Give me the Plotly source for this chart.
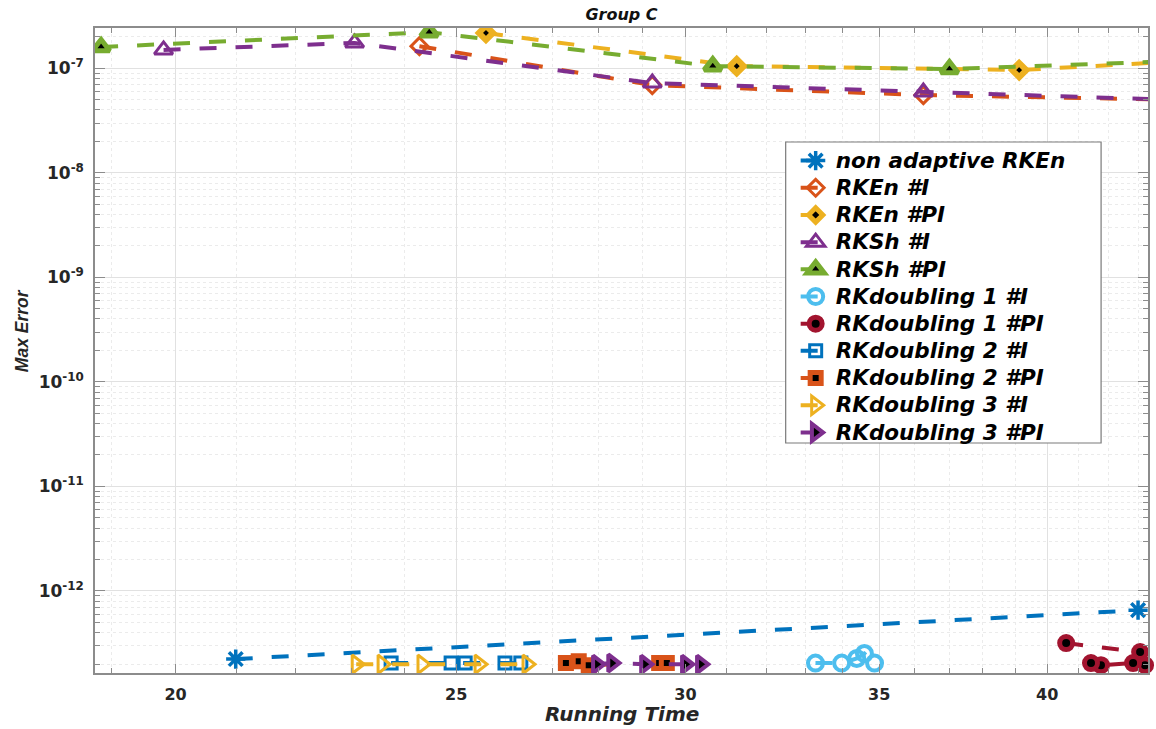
import plotly.graph_objects as go

# Running time (s) and maximum error for each integrator
nonadapt_t = [20.98, 43.0]
nonadapt_e = [2.23e-13, 6.55e-13]

rken_i_t = [24.28, 29.22, 36.25, 45.0]
rken_i_e = [1.63e-7, 6.92e-8, 5.55e-8, 4.97e-8]

rken_pi_t = [25.60, 31.25, 39.12, 45.0]
rken_pi_e = [2.18e-7, 1.05e-7, 9.63e-8, 1.19e-7]

rksh_i_t = [19.81, 23.06, 29.22, 36.25, 45.0]
rksh_i_e = [1.50e-7, 1.75e-7, 7.23e-8, 5.93e-8, 4.91e-8]

rksh_pi_t = [18.85, 24.47, 30.66, 37.01, 45.0]
rksh_pi_e = [1.60e-7, 2.22e-7, 1.05e-7, 9.85e-8, 1.19e-7]

rkd1_i_t = [33.27, 33.97, 34.38, 34.59, 34.87]
rkd1_i_e = [2.04e-13, 2.04e-13, 2.26e-13, 2.52e-13, 2.04e-13]

rkd1_pi_t = [40.61, 43.07, 43.24, 42.83, 41.75, 41.42]
rkd1_pi_e = [3.17e-13, 2.60e-13, 1.95e-13, 2.04e-13, 1.95e-13, 2.04e-13]

rkd2_i_t = [23.74, 24.90, 25.18, 25.99, 26.32]
rkd2_i_e = [2.04e-13, 2.04e-13, 2.04e-13, 2.04e-13, 2.04e-13]

rkd2_pi_t = [27.28, 27.56, 27.78, 29.38, 29.56]
rkd2_pi_e = [2.04e-13, 2.13e-13, 1.95e-13, 2.04e-13, 2.04e-13]

rkd3_i_t = [23.09, 23.57, 24.33, 25.46, 26.45]
rkd3_i_e = [1.99e-13, 1.99e-13, 1.99e-13, 1.99e-13, 1.99e-13]

rkd3_pi_t = [27.96, 28.30, 29.05, 30.01, 30.37]
rkd3_pi_e = [1.99e-13, 2.04e-13, 1.99e-13, 1.99e-13, 1.99e-13]

x_major = [20, 25, 30, 35, 40]
y_exponents = [-12, -11, -10, -9, -8, -7]

BLUE, ORANGE, YELLOW = "#0072BD", "#D95319", "#EDB120"
PURPLE, GREEN, CYAN, RED = "#7E2F8E", "#77AC30", "#4DBEEE", "#A2142F"

DASH = "17px,19px"
LW = 4

# name, x, y, colour, symbol, size, fill, edge width, clip
series = [
    ("non adaptive RKEn", nonadapt_t, nonadapt_e, BLUE, "asterisk-open", 16, None, 3.5, False),
    ("RKEn #I", rken_i_t, rken_i_e, ORANGE, "diamond-open", 13, None, 3, True),
    ("RKEn #PI", rken_pi_t, rken_pi_e, YELLOW, "diamond", 11, "black", 6, True),
    ("RKSh #I", rksh_i_t, rksh_i_e, PURPLE, "triangle-up-open", 16, None, 3, True),
    ("RKSh #PI", rksh_pi_t, rksh_pi_e, GREEN, "triangle-up", 15, "black", 5, True),
    ("RKdoubling 1 #I", rkd1_i_t, rkd1_i_e, CYAN, "circle-open", 15, None, 4, False),
    ("RKdoubling 1 #PI", rkd1_pi_t, rkd1_pi_e, RED, "circle", 13, "black", 5, False),
    ("RKdoubling 2 #I", rkd2_i_t, rkd2_i_e, BLUE, "square-open", 12, None, 3, False),
    ("RKdoubling 2 #PI", rkd2_pi_t, rkd2_pi_e, ORANGE, "square", 11, "black", 5, False),
    ("RKdoubling 3 #I", rkd3_i_t, rkd3_i_e, YELLOW, "triangle-right-open", 16, None, 3, False),
    ("RKdoubling 3 #PI", rkd3_pi_t, rkd3_pi_e, PURPLE, "triangle-right", 15, "black", 4, False),
]

fig = go.Figure()
for name, xs, ys, col, sym, size, fill, ew, clip in series:
    marker = dict(symbol=sym, size=size, color=fill if fill else col,
                  line=dict(color=col, width=ew))
    fig.add_trace(go.Scatter(
        x=xs, y=ys, mode="lines+markers",
        # legend rows are spaced by the legend font; the label itself is drawn a bit larger
        name='<span style="font-size:21.5px">%s</span>' % name,
        line=dict(color=col, width=LW, dash=DASH),
        marker=marker, cliponaxis=clip,
    ))

x_minor = [v for v in range(19, 44) if v not in x_major]
y_minor = [k * 10.0 ** e for e in range(-13, -6) for k in range(2, 10)]

TICKFONT = dict(family="DejaVu Sans", size=16, color="#262626", weight="bold")
GRID = "#E1E1E1"
MINORGRID = "#EBEBEB"
AXCOL = "#8C8C8C"

fig.update_xaxes(
    type="log", range=[1.2732, 1.6369],
    tickmode="array", tickvals=x_major, ticktext=[str(v) for v in x_major],
    tickfont=TICKFONT, ticks="inside", ticklen=9, tickwidth=1, tickcolor=AXCOL,
    ticklabelstandoff=6,
    showline=True, linecolor=AXCOL, linewidth=1.5, mirror="ticks",
    showgrid=True, gridcolor=GRID, gridwidth=1, zeroline=False,
    minor=dict(tickmode="array", tickvals=x_minor, ticks="inside", ticklen=5,
               tickcolor=AXCOL, showgrid=True, gridcolor=MINORGRID, griddash="dot"),
)
fig.update_yaxes(
    type="log", range=[-12.785, -6.614],
    tickmode="array", tickvals=[10.0 ** e for e in y_exponents],
    ticktext=["10<sup>%d</sup>" % e for e in y_exponents],
    tickfont=dict(family="DejaVu Sans", size=17, color="#262626", weight="bold"),
    ticks="inside", ticklen=10, tickwidth=1, tickcolor=AXCOL,
    ticklabelstandoff=6,
    showline=True, linecolor=AXCOL, linewidth=1.5, mirror="ticks",
    showgrid=True, gridcolor=GRID, gridwidth=1, zeroline=False,
    minor=dict(tickmode="array", tickvals=y_minor, ticks="inside", ticklen=5,
               tickcolor=AXCOL, showgrid=True, gridcolor=MINORGRID, griddash="dot"),
)

# pixel positions converted to paper coordinates of the plotting area
def px_x(p):
    return (p - 95) / 1055

def px_y(p):
    return (673 - p) / 645

fig.update_layout(
    width=1156, height=729,
    margin=dict(l=95, r=6, t=28, b=56),
    paper_bgcolor="white", plot_bgcolor="white",
    title=dict(text="Group C", x=0.5, xref="paper", y=1 - 14 / 729, yref="container",
               xanchor="center", yanchor="middle",
               font=dict(family="DejaVu Sans", size=16, color="#111111",
                         weight="bold", style="italic")),
    legend=dict(
        x=px_x(797), y=px_y(142), xanchor="left", yanchor="top",
        bgcolor="rgba(0,0,0,0)", borderwidth=0,
        font=dict(family="DejaVu Sans", size=18.6, color="black",
                  weight="bold", style="italic"),
        tracegroupgap=0, itemwidth=30,
    ),
    showlegend=True,
    shapes=[
        dict(type="rect", xref="paper", yref="paper",
             x0=px_x(787), x1=px_x(1103), y0=px_y(443), y1=px_y(142),
             fillcolor="white", line=dict(color="#7A7A7A", width=1.2), layer="above"),
    ],
    annotations=[
        dict(text="Running Time", xref="paper", yref="paper", x=0.5, y=-(714 - 673) / 645,
             xanchor="center", yanchor="middle", showarrow=False,
             font=dict(family="DejaVu Sans", size=20, color="#262626",
                       weight="bold", style="italic")),
        dict(text="Max Error", xref="paper", yref="paper", x=-(95 - 22) / 1055,
             y=(673 - 331) / 645, textangle=-90, xanchor="center", yanchor="middle",
             showarrow=False,
             font=dict(family="Liberation Sans", size=17.5,
                       color="#262626", weight="bold", style="italic")),
    ],
)

fig.write_html("out.html")
